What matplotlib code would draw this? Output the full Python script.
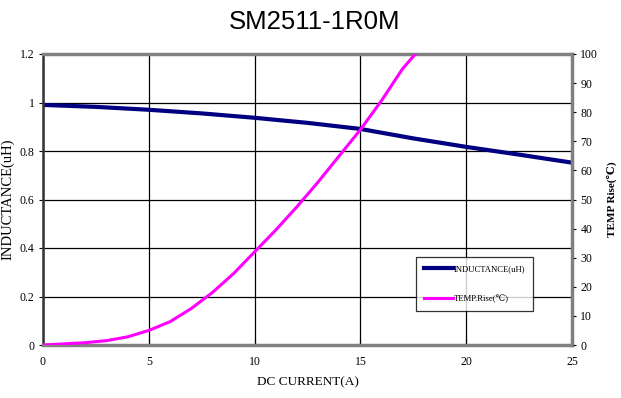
import matplotlib
matplotlib.use("Agg")
import matplotlib.pyplot as plt
import numpy as np

# data
current_l = [0, 2.5, 5, 7.5, 10, 12.5, 15, 17.5, 20, 22.5, 25]
inductance = [0.99, 0.982, 0.970, 0.955, 0.937, 0.916, 0.891, 0.852, 0.817, 0.785, 0.752]

current_t = [0, 1, 2, 3, 4, 5, 6, 7, 8, 9, 10, 11, 12, 13, 14, 15, 16, 17, 17.6]
temp_rise = [0, 0.4, 0.8, 1.5, 2.8, 5, 8, 12.5, 18, 24.5, 32, 39.5, 47.5, 56, 65, 74, 84, 95, 100]

x_ticks = [0, 5, 10, 15, 20, 25]
l_ticks = [0, 0.2, 0.4, 0.6, 0.8, 1.0, 1.2]
l_labels = ["0", "0.2", "0.4", "0.6", "0.8", "1", "1.2"]
r_ticks = list(range(0, 101, 10))

serif = ["Liberation Serif", "DejaVu Serif"]

fig = plt.figure(figsize=(6.21, 3.98), dpi=100)
ax = fig.add_axes([43 / 621, 1 - 345 / 398, (572 - 43) / 621, (345 - 54) / 398])
ax2 = ax.twinx()

ax.set_xlim(0, 25)
ax.set_ylim(0, 1.2)
ax2.set_ylim(0, 100)

ax.set_xticks(x_ticks)
ax.set_xticklabels([str(v) for v in x_ticks], family=serif, fontsize=8.5)
ax.set_yticks(l_ticks)
ax.set_yticklabels(l_labels, family=serif, fontsize=8.5)
ax2.set_yticks(r_ticks)
ax2.set_yticklabels([str(v) for v in r_ticks], family=serif, fontsize=8.5)

ax.grid(True, color="black", linewidth=0.9)
ax.set_axisbelow(True)
ax.tick_params(axis="x", direction="in", length=4, pad=8)
ax.tick_params(axis="y", direction="out", length=3, pad=3)
ax2.tick_params(axis="y", direction="out", length=3, pad=3)

for name, sp in ax.spines.items():
    sp.set_color("gray")
    sp.set_linewidth(2.5)
ax.spines["left"].set_color("#333333")
ax.spines["left"].set_linewidth(1.8)
for name, sp in ax2.spines.items():
    sp.set_visible(False)
ax2.spines["right"].set_visible(True)
ax2.spines["right"].set_color("gray")
ax2.spines["right"].set_linewidth(1.8)

l1, = ax.plot(current_l, inductance, color="#000080", linewidth=3, label="INDUCTANCE(uH)")
l2, = ax2.plot(current_t, temp_rise, color="#ff00ff", linewidth=2.2, label="TEMP.Rise(\u2103)")

ax.set_xlabel("DC CURRENT(A)", family=serif, fontsize=9.5, labelpad=6)
ax.set_ylabel("INDUCTANCE(uH)", family=serif, fontsize=10.5, labelpad=4)
ax2.set_ylabel("TEMP Rise(\u2103)", family=serif, fontsize=8, fontweight="bold", labelpad=6, rotation=90)

leg = ax2.legend(handles=[l1, l2], loc="upper left", bbox_to_anchor=((416 - 43) / 529, (345 - 257) / 291),
                 prop={"family": serif, "size": 6.2}, frameon=True, fancybox=False,
                 handlelength=3.3, handletextpad=0.1, labelspacing=2.5, borderpad=0.95,
                 borderaxespad=0)
leg.get_frame().set_edgecolor("black")
leg.get_frame().set_linewidth(0.9)

fig.suptitle("SM2511-1R0M", fontsize=18.5, family="Liberation Sans", x=0.507, y=0.975)

fig.savefig("out.png", dpi=100)
